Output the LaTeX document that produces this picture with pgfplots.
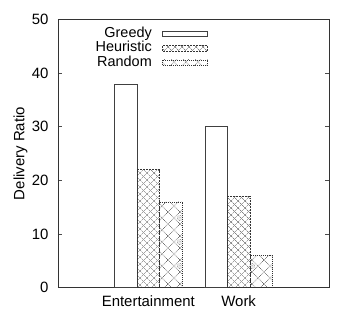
\documentclass[border=0pt]{standalone}
\usepackage{fontspec}
\setmainfont{Liberation Sans}
\usepackage{pgfplots}
\pgfplotsset{compat=1.18}
\usetikzlibrary{patterns}
\pgfdeclarepatternformonly{mycross}{\pgfqpoint{-1pt}{-1pt}}{\pgfqpoint{8bp}{8bp}}{\pgfqpoint{7bp}{7bp}}{%
  \pgfsetlinewidth{0.35pt}%
  \pgfpathmoveto{\pgfqpoint{0pt}{0pt}}\pgfpathlineto{\pgfqpoint{7bp}{7bp}}%
  \pgfpathmoveto{\pgfqpoint{0pt}{7bp}}\pgfpathlineto{\pgfqpoint{7bp}{0pt}}%
  \pgfusepath{stroke}}
\pgfdeclarepatternformonly{mydots}{\pgfqpoint{-1pt}{-1pt}}{\pgfqpoint{25bp}{25bp}}{\pgfqpoint{24bp}{24bp}}{%
  \pgfsetlinewidth{0.4pt}%
  \pgfsetdash{{0.7pt}{0.9pt}}{0pt}%
  \pgfpathmoveto{\pgfqpoint{0pt}{0pt}}\pgfpathlineto{\pgfqpoint{24bp}{24bp}}%
  \pgfpathmoveto{\pgfqpoint{0pt}{12bp}}\pgfpathlineto{\pgfqpoint{12bp}{24bp}}%
  \pgfpathmoveto{\pgfqpoint{12bp}{0pt}}\pgfpathlineto{\pgfqpoint{24bp}{12bp}}%
  \pgfpathmoveto{\pgfqpoint{0pt}{24bp}}\pgfpathlineto{\pgfqpoint{24bp}{0pt}}%
  \pgfpathmoveto{\pgfqpoint{0pt}{12bp}}\pgfpathlineto{\pgfqpoint{12bp}{0bp}}%
  \pgfpathmoveto{\pgfqpoint{12bp}{24bp}}\pgfpathlineto{\pgfqpoint{24bp}{12bp}}%
  \pgfpathcircle{\pgfqpoint{12bp}{6bp}}{2.6bp}%
  \pgfpathcircle{\pgfqpoint{12bp}{6bp}}{1.2bp}%
  \pgfusepath{stroke}}
\begin{document}
\begin{tikzpicture}
\path[use as bounding box] (-58bp,-32.5bp) rectangle (301bp,287.5bp);
\begin{axis}[
  at={(0,0)}, anchor=south west,
  scale only axis, width=271bp, height=268bp,
  xmin=0, xmax=3, ymin=0, ymax=50,
  xtick={1,2}, xticklabels={Entertainment,Work},
  ytick={0,10,20,30,40,50},
  major tick length=4bp,
  xtick style={draw=none},
  tick align=inside,
  ytick pos=both,
  axis line style={black!80, line width=0.6pt},
  ytick style={black!70, line width=0.5pt},
  /pgf/number format/assume math mode=true,
  ticklabel style={font=\fontsize{15}{17}\selectfont},
  yticklabel style={xshift=-6bp},
  ylabel={Delivery Ratio},
  ylabel style={font=\fontsize{15}{17}\selectfont, yshift=-2.5bp},
  xticklabel style={yshift=-1bp},
  ybar=0pt, bar width=0.25,
  legend style={at={(rel axis cs:0.5535,0.975)}, anchor=north east, draw=none, fill=none,
    font=\fontsize{14.5}{16}\selectfont, inner sep=0pt, row sep=0pt,
    nodes={inner sep=0.5bp, text height=10.3bp, text depth=3.2bp},
    legend cell align=right},
  legend plot pos=right,
  legend image code/.code={\path (0bp,0bp); \draw[#1] (10bp,-2.7bp) rectangle (55bp,2.7bp);},
]
\addplot[draw=black!75, fill=white, line width=0.5pt] coordinates {(1,38) (2,30)};
\addplot[draw=black!80, dash pattern=on 2pt off 1pt, line width=0.4pt, pattern=mycross, pattern color=black!75] coordinates {(1,22) (2,17)};
\addplot[draw=black!80, dash pattern=on 1pt off 1pt, line width=0.4pt, pattern=mydots, pattern color=black!75] coordinates {(1,16) (2,6)};
\legend{Greedy,Heuristic,Random}
\end{axis}
\end{tikzpicture}
\end{document}
